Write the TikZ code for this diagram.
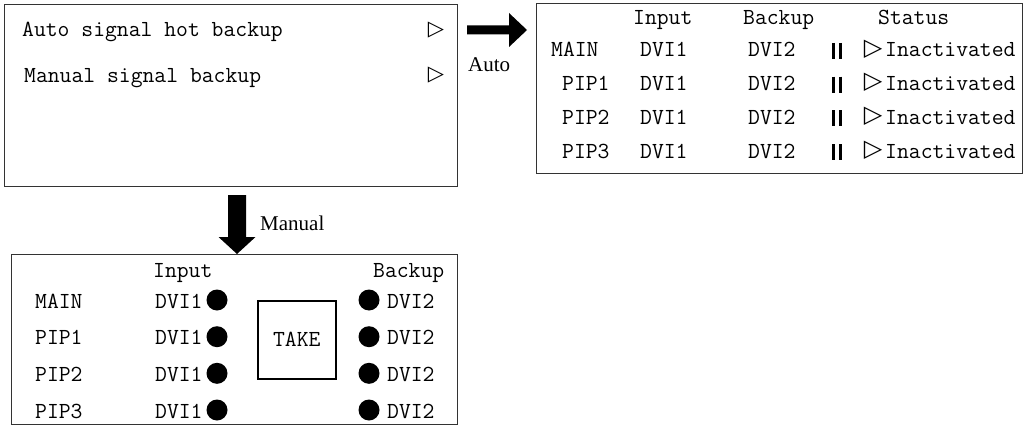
\documentclass[tikz,border=0pt]{standalone}
\usepackage{fontspec}
\newfontfamily\lblfont{Liberation Serif}
\newfontfamily\symfont{DejaVu Sans}
\begin{document}
\begin{tikzpicture}[x=1pt,y=-1pt,
  panel/.style={draw=black!80, line width=1pt, rectangle, inner sep=0pt, anchor=north west},
  mono/.style={font=\ttfamily\fontsize{23}{23}\selectfont, inner sep=0pt, anchor=base west},
  tri/.style={font=\symfont\fontsize{24}{24}\selectfont, inner sep=0pt, anchor=center},
  lbl/.style={font=\lblfont\fontsize{21}{21}\selectfont, inner sep=0pt, anchor=base west},
  dot/.style={circle, fill=black, minimum size=21pt, inner sep=0pt},
  bar/.style={line width=3pt},
  bigarrow/.style={fill=black}]
\useasboundingbox (0,0) rectangle (1024,425);

% panels
\node[panel, minimum width=453pt, minimum height=182pt] (menu) at (4,4) {};
\node[panel, minimum width=486pt, minimum height=170pt] (auto) at (536,3) {};
\node[panel, minimum width=446pt, minimum height=170pt] (manual) at (11,254) {};

% menu contents
\node[mono] (m1) at (22,37) {Auto signal hot backup};
\node[mono] (m2) at (24,83) {Manual signal backup};
\node[tri, font=\symfont\fontsize{21}{21}\selectfont] (t1) at (436,30) {▷};
\node[tri, font=\symfont\fontsize{21}{21}\selectfont] (t2) at (436,75) {▷};

% big arrows
\coordinate (ra) at (467,30);
\fill[bigarrow] (ra) ++(0,-4.5) -- ++(42,0) -- ++(0,-12.5) -- (527,30) -- (509,47) -- (509,34.5) -- (467,34.5) -- cycle;
\node[lbl] (autolbl) at (468,72) {Auto};
\coordinate (da) at (237,195);
\fill[bigarrow] (228,195) -- (246,195) -- (246,237) -- (255.5,237) -- (manual.north -| da) -- (218.5,237) -- (228,237) -- cycle;
\node[lbl] (manlbl) at (260,230) {Manual};

% auto table
\node[mono] (ah1) at (633,25) {Input};
\node[mono] (ah2) at (743,25) {Backup};
\node[mono] (ah3) at (878,25) {Status};
\foreach \name/\x/\y [count=\i] in {MAIN/551/57, PIP1/562/90.7, PIP2/562/124.3, PIP3/562/158}{
  \node[mono] (al\i) at (\x,\y) {\name};
  \node[mono] (ai\i) at (640,\y) {DVI1};
  \node[mono] (ab\i) at (748,\y) {DVI2};
  \coordinate (bt\i) at (833.5,\y-14);
  \coordinate (bb\i) at (833.5,\y+2);
  \draw[bar] (bt\i) -- (bb\i);
  \draw[bar] ([xshift=7pt]bt\i) -- ([xshift=7pt]bb\i);
  \node[tri] (at\i) at (873,\y-8) {▷};
  \node[mono] (as\i) at (885,\y) {Inactivated};
}

% manual table
\node[mono] (mh1) at (153,277) {Input};
\node[mono] (mh2) at (373,277) {Backup};
\foreach \name/\y [count=\i] in {MAIN/308, PIP1/344.7, PIP2/381.3, PIP3/418}{
  \node[mono] (ml\i) at (35,\y) {\name};
  \node[mono] (mi\i) at (155,\y) {DVI1};
  \node[dot] (md\i) at (217,\y-8) {};
  \node[dot] (me\i) at (369,\y-8) {};
  \node[mono] (mb\i) at (387,\y) {DVI2};
}
\node[draw=black, line width=1.5pt, rectangle, minimum width=78pt, minimum height=78pt, inner sep=0pt, anchor=north west] (take) at (257,300) {};
\node[font=\ttfamily\fontsize{23}{23}\selectfont, inner sep=0pt] (taketxt) at (take.center) {TAKE};
\end{tikzpicture}
\end{document}
